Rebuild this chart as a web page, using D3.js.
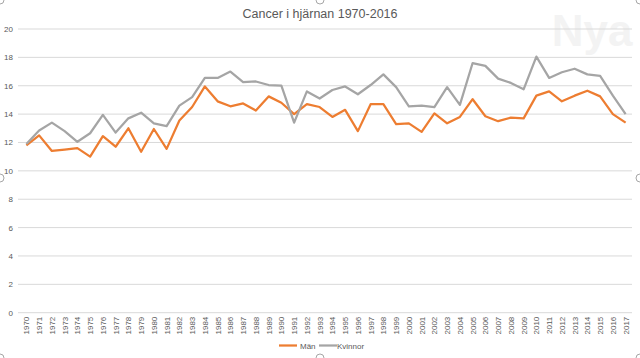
<!DOCTYPE html>
<html>
<head>
<meta charset="utf-8">
<script src="https://cdn.jsdelivr.net/npm/d3@7"></script>
<style>
  body { margin: 0; background: #fff; }
  svg { display: block; font-family: "Liberation Sans", Arial, sans-serif; }
</style>
</head>
<body>
<div id="chart-area"></div>
<script>
var years = d3.range(1970, 2018).map(String);

var man = [11.8, 12.5, 11.4, 11.5, 11.6, 11.0, 12.45, 11.7, 13.0, 11.35,
           12.95, 11.55, 13.55, 14.5, 15.95, 14.9, 14.55, 14.75, 14.25, 15.25,
           14.8, 14.0, 14.7, 14.5, 13.8, 14.3, 12.8, 14.7, 14.7, 13.3,
           13.35, 12.75, 14.05, 13.35, 13.8, 15.05, 13.85, 13.5, 13.75, 13.7,
           15.3, 15.6, 14.9, 15.3, 15.65, 15.25, 14.0, 13.4];

var kvinnor = [11.9, 12.85, 13.4, 12.8, 12.05, 12.65, 13.95, 12.7, 13.7, 14.1,
               13.35, 13.15, 14.6, 15.2, 16.55, 16.55, 17.0, 16.25, 16.3, 16.05,
               16.0, 13.4, 15.6, 15.1, 15.7, 15.95, 15.4, 16.05, 16.8, 15.9,
               14.55, 14.6, 14.5, 15.9, 14.65, 17.6, 17.4, 16.5, 16.2, 15.75,
               18.05, 16.55, 16.95, 17.2, 16.8, 16.7, 15.3, 14.0];

var yTicks = [0, 2, 4, 6, 8, 10, 12, 14, 16, 18, 20];

var series = [
  {name: "Män", values: man, color: "#ED7D31"},
  {name: "Kvinnor", values: kvinnor, color: "#A5A5A5"}
];

var width = 640, height = 358;
var plot = {left: 20, right: 632, top: 29, bottom: 312.7};

var svg = d3.select("#chart-area").append("svg")
    .attr("width", width)
    .attr("height", height);

// watermark
svg.append("text")
    .attr("x", 592).attr("y", 46)
    .attr("text-anchor", "middle")
    .attr("font-size", "44px")
    .attr("font-weight", "bold")
    .attr("fill", "#f3f3f3")
    .text("Nya");

var x = d3.scaleBand()
    .domain(years)
    .range([plot.left, plot.right]);

var y = d3.scaleLinear()
    .domain([0, 20])
    .range([plot.bottom, plot.top]);

// grid
svg.append("g")
    .selectAll("line")
    .data(yTicks)
    .enter().append("line")
        .attr("x1", 18).attr("x2", plot.right)
        .attr("y1", function(d) { return y(d); })
        .attr("y2", function(d) { return y(d); })
        .attr("stroke", "#D9D9D9")
        .attr("stroke-width", 1);

// y labels
svg.append("g")
    .selectAll("text")
    .data(yTicks)
    .enter().append("text")
        .attr("x", 13)
        .attr("y", function(d) { return y(d) + 3; })
        .attr("text-anchor", "end")
        .attr("font-size", "8px")
        .attr("fill", "#595959")
        .text(function(d) { return d; });

// x axis labels
var xAxis = d3.axisBottom(x).tickSize(0).tickPadding(4);
var xg = svg.append("g")
    .attr("transform", "translate(0," + plot.bottom + ")")
    .call(xAxis);
xg.select(".domain").remove();
xg.selectAll("text")
    .attr("font-size", "8px")
    .attr("font-family", "Liberation Sans, Arial, sans-serif")
    .attr("fill", "#595959")
    .attr("text-anchor", "end")
    .attr("dx", "-4")
    .attr("dy", "-0.35em")
    .attr("transform", "rotate(-90)")
    .attr("x", 0).attr("y", 0);
xg.selectAll(".tick text")
    .attr("dx", -4)
    .attr("dy", 3);

// lines
var line = d3.line()
    .x(function(d, i) { return x(years[i]) + x.bandwidth() / 2; })
    .y(function(d) { return y(d); });

svg.selectAll(".series")
    .data(series)
    .enter().append("path")
        .attr("class", "series")
        .attr("fill", "none")
        .attr("stroke", function(d) { return d.color; })
        .attr("stroke-width", 2.25)
        .attr("stroke-linejoin", "round")
        .attr("d", function(d) { return line(d.values); });

// title
svg.append("text")
    .attr("x", 320).attr("y", 18)
    .attr("text-anchor", "middle")
    .attr("font-size", "12.5px")
    .attr("fill", "#595959")
    .text("Cancer i hjärnan 1970-2016");

// legend
var legend = svg.append("g");
var lx = [279, 319];
var lt = [300, 337];
series.forEach(function(s, i) {
  legend.append("line")
      .attr("x1", lx[i]).attr("x2", lx[i] + 18)
      .attr("y1", 345.5).attr("y2", 345.5)
      .attr("stroke", s.color)
      .attr("stroke-width", 2.25);
  legend.append("text")
      .attr("x", lt[i]).attr("y", 348.5)
      .attr("font-size", "8px")
      .attr("fill", "#595959")
      .text(s.name);
});

// selection handles of the chart frame
var handles = [[0, 0], [320, 0], [640, 0], [0, 178], [640, 178], [0, 358], [320, 358], [640, 358]];
svg.append("g").selectAll("circle")
    .data(handles)
    .enter().append("circle")
        .attr("cx", function(d) { return d[0]; })
        .attr("cy", function(d) { return d[1]; })
        .attr("r", 4)
        .attr("fill", "#fff")
        .attr("stroke", "#909090")
        .attr("stroke-width", 0.8);
</script>
</body>
</html>
